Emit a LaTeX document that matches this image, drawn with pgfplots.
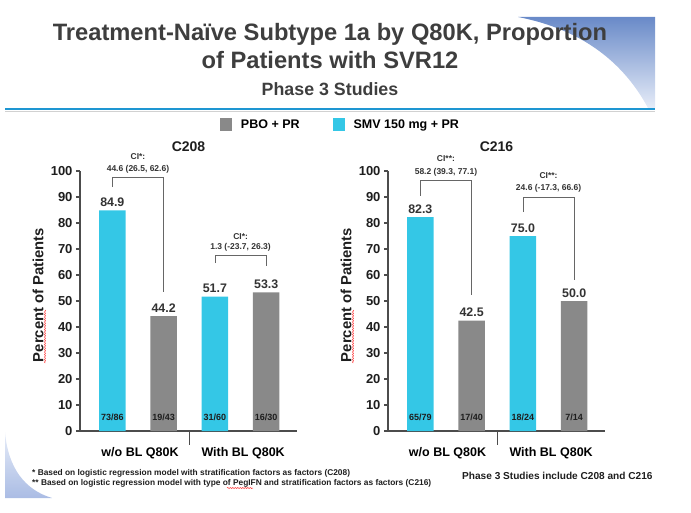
\documentclass[border=0pt]{standalone}
\usepackage{pgfplots}
\pgfplotsset{compat=1.18}
\usepackage{fontspec}
\setmainfont{Liberation Sans}
\usetikzlibrary{decorations.pathmorphing}
\definecolor{smv}{RGB}{52,199,230}
\definecolor{pbo}{RGB}{137,137,137}
\definecolor{ttl}{RGB}{62,62,62}
\definecolor{txt}{RGB}{30,30,30}
\definecolor{rulec}{RGB}{30,150,210}
\definecolor{swA}{RGB}{105,138,200}
\definecolor{swB}{RGB}{230,236,248}
\newcommand\fs[1]{\fontsize{#1}{#1}\selectfont}

\pgfplotsset{
  panel/.style={
    scale only axis, width=217pt, height=260pt,
    xmin=-0.63, xmax=3.6, ymin=0, ymax=100,
    axis x line=bottom, axis y line=left,
    axis line style={-, draw=black!70, line width=1.2pt},
    ytick={0,10,...,100}, xtick=\empty,
    tick style={draw=black!70, line width=1.2pt},
    major tick length=4pt, tick align=outside,
    yticklabel style={font=\bfseries\fs{13}, text=txt},
    /pgf/number format/assume math mode=true,
    ybar, bar width=26.5pt,
    clip=false,
    ylabel={Percent of Patients},
    every axis y label/.style={font=\bfseries\fs{14.8}, text=txt, at={(axis description cs:-0.1935,0.523)}, anchor=center, rotate=90},
    every axis title/.style={font=\bfseries\fs{14}, text=txt, at={(axis description cs:0.5,1.092)}, anchor=center},
    nodes near coords={\pgfmathprintnumber[fixed,fixed zerofill,precision=1]{\pgfplotspointmeta}},
    every node near coord/.append style={font=\bfseries\fs{12.4}, text=black!80, yshift=0pt},
  },
}
\tikzset{
  brk/.style={draw=black!60, line width=0.8pt},
  ci/.style={font=\bfseries\fs{8.5}, text=black!80, inner sep=0pt},
  frac/.style={font=\bfseries\fs{9}, text=txt, inner sep=0pt},
  cat/.style={font=\bfseries\fs{12.5}, text=black, inner sep=0pt},
}

\begin{document}
\begin{tikzpicture}
\path[use as bounding box] (0pt,0pt) rectangle (691pt,-513pt);
\begin{scope}[x=1pt,y=-1pt]
  % decorative swooshes
  \shade[top color=swA, bottom color=swB] (518,17) -- (655,17) -- (655,108) -- (648,108) .. controls (625,65) and (585,30) .. (518,17) -- cycle;
  \shade[top color=swB, bottom color={rgb,255:red,170;green,188;blue,228}] (5,432) .. controls (8,468) and (25,490) .. (52,498) -- (5,498) -- cycle;
  % title rule
  \draw[black!18, line width=1pt] (5,112) -- (655,112);
  \draw[rulec, line width=2pt] (5,109.5) -- (655,109.5);
  % titles
  \node[anchor=base, inner sep=0pt, font=\bfseries\fs{23.7}, text=ttl] at (330,41) {Treatment-Naïve Subtype 1a by Q80K, Proportion};
  \node[anchor=base, inner sep=0pt, font=\bfseries\fs{23.7}, text=ttl] at (330,69) {of Patients with SVR12};
  \node[anchor=base, inner sep=0pt, font=\bfseries\fs{17.8}, text=ttl] at (330,96) {Phase 3 Studies};
  % footnotes
  \node[anchor=base west, inner sep=0pt, font=\bfseries\fs{8.35}, text=txt] at (32,475) {* Based on logistic regression model with stratification factors as factors (C208)};
  \node[anchor=base west, inner sep=0pt, font=\bfseries\fs{8.35}, text=txt] at (32,485) {** Based on logistic regression model with type of PegIFN and stratification factors as factors (C216)};
  \node[anchor=base west, inner sep=0pt, font=\bfseries\fs{10.1}, text=txt] at (462,479) {Phase 3 Studies include C208 and C216};
  % spell-check squiggles
  \draw[red!80, line width=0.5pt, decorate, decoration={snake, amplitude=0.6pt, segment length=2.5pt}] (45,310) -- (45,363);
  \draw[red!80, line width=0.5pt, decorate, decoration={snake, amplitude=0.6pt, segment length=2.5pt}] (353,310) -- (353,363);
  \draw[red!80, line width=0.5pt, decorate, decoration={snake, amplitude=0.6pt, segment length=2.5pt}] (227,488) -- (253,488);
\end{scope}

% ---------------- C208 ----------------
\begin{axis}[panel, at={(80pt,-431pt)}, anchor=south west, title={C208},
  legend style={at={(axis description cs:0.645,1.177)}, anchor=west, draw=none, fill=none,
    legend columns=2, font=\bfseries\fs{12.5}, inner sep=0pt, outer sep=0pt,
    /tikz/every even column/.append style={column sep=31pt}},
  legend image code/.code={\fill[#1] (0pt,-6.5pt) rectangle (12pt,6.5pt); \path (19pt,0pt);},
]
\addplot[fill=pbo, draw=none, bar shift=0pt] coordinates {(1,44.2) (3,53.3)};
\addlegendentry{PBO + PR}
\addplot[fill=smv, draw=none, bar shift=0pt] coordinates {(0,84.9) (2,51.7)};
\addlegendentry{SMV 150 mg + PR}
\node[frac] at (axis cs:0,5.4) {73/86};
\node[frac] at (axis cs:1,5.4) {19/43};
\node[frac] at (axis cs:2,5.4) {31/60};
\node[frac] at (axis cs:3,5.4) {16/30};
\draw[brk] (axis cs:0,93.8) |- (axis cs:1,97.7) -- (axis cs:1,53.5);
\node[ci] at (axis cs:0.5,105.4) {CI*:};
\node[ci] at (axis cs:0.5,100.8) {44.6 (26.5, 62.6)};
\draw[brk] (axis cs:2,64.6) |- (axis cs:3,67.7) -- (axis cs:3,63.5);
\node[ci] at (axis cs:2.5,74.6) {CI*:};
\node[ci] at (axis cs:2.5,70.8) {1.3 (-23.7, 26.3)};
\draw[draw=black!70, line width=1.2pt] (axis cs:1.5,0) -- ++(0pt,-14pt);
\node[cat, yshift=-22pt] at (axis cs:0.54,0) {w/o BL Q80K};
\node[cat, yshift=-22pt] at (axis cs:2.55,0) {With BL Q80K};
\end{axis}

% ---------------- C216 ----------------
\begin{axis}[panel, at={(388pt,-431pt)}, anchor=south west, title={C216}]
\addplot[fill=pbo, draw=none, bar shift=0pt] coordinates {(1,42.5) (3,50.0)};
\addplot[fill=smv, draw=none, bar shift=0pt] coordinates {(0,82.3) (2,75.0)};
\node[frac] at (axis cs:0,5.4) {65/79};
\node[frac] at (axis cs:1,5.4) {17/40};
\node[frac] at (axis cs:2,5.4) {18/24};
\node[frac] at (axis cs:3,5.4) {7/14};
\draw[brk] (axis cs:0,90.4) |- (axis cs:1,96.5) -- (axis cs:1,52.3);
\node[ci] at (axis cs:0.5,104.6) {CI**:};
\node[ci] at (axis cs:0.5,99.6) {58.2 (39.3, 77.1)};
\draw[brk] (axis cs:2,84.2) |- (axis cs:3,90.0) -- (axis cs:3,58.0);
\node[ci] at (axis cs:2.5,98.1) {CI**:};
\node[ci] at (axis cs:2.5,93.5) {24.6 (-17.3, 66.6)};
\draw[draw=black!70, line width=1.2pt] (axis cs:1.5,0) -- ++(0pt,-14pt);
\node[cat, yshift=-22pt] at (axis cs:0.53,0) {w/o BL Q80K};
\node[cat, yshift=-22pt] at (axis cs:2.55,0) {With BL Q80K};
\end{axis}
\end{tikzpicture}
\end{document}
